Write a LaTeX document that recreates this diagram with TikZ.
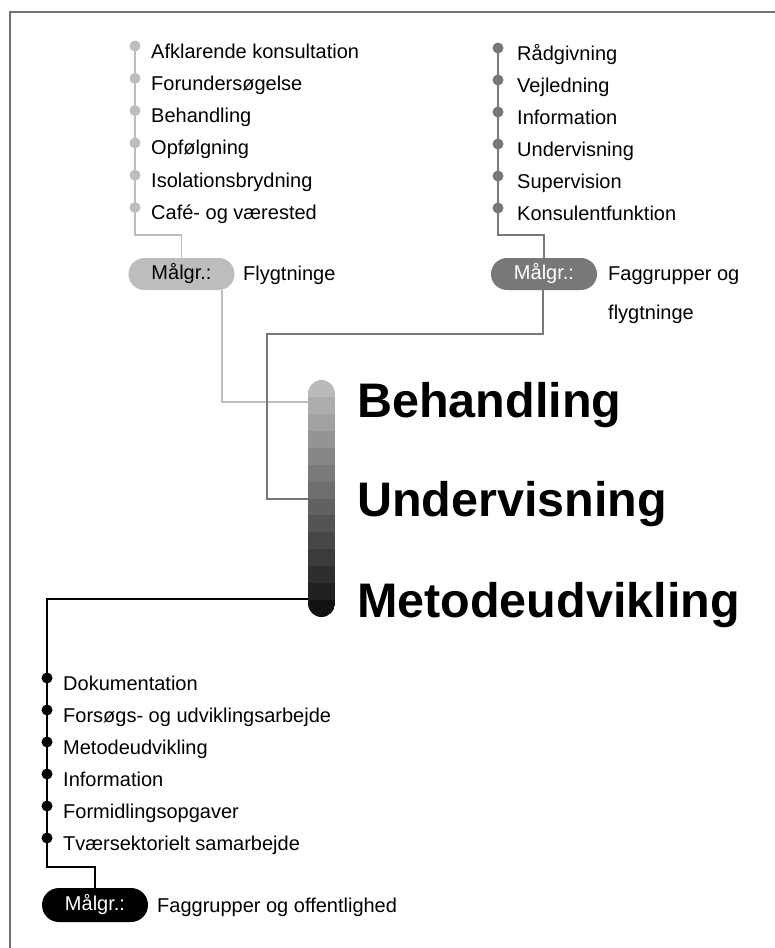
\documentclass[tikz,border=0pt]{standalone}
\usepackage{fontspec}
\setmainfont{Liberation Sans}
\usetikzlibrary{calc}
\usetikzlibrary{positioning}

\definecolor{lightgrp}{gray}{0.74}
\definecolor{midgrp}{gray}{0.47}
\definecolor{framegray}{gray}{0.45}

\tikzset{
  item/.style={anchor=base west, inner sep=0pt, font=\fontsize{20}{24}\selectfont},
  dot/.style={circle, fill, inner sep=0pt, minimum size=11pt},
  malgr/.style={rounded corners=16pt, minimum width=106pt, minimum height=32pt, inner sep=0pt, font=\fontsize{20}{24}\selectfont},
  title/.style={anchor=base west, inner sep=0pt, font=\fontsize{48.5}{50}\selectfont\bfseries},
  link/.style={line width=1.5pt},
}

\begin{document}
\begin{tikzpicture}[x=1pt, y=-1pt]
    \useasboundingbox (0,0) rectangle (775,948);
    \coordinate (f1) at (10,948);
    \coordinate (f2) at (10,12);
    \coordinate (f3) at (775,12);
    \draw[framegray, line width=1.5pt] (f1) -- (f2) -- (f3);

    \node (bar) [minimum width=27pt, minimum height=237pt, inner sep=0pt] at (321.5,498.5) {};
    \begin{scope}
        \clip[rounded corners=13.5pt] (308,380) rectangle (335,617);
        \foreach \k in {0,...,13} {
            \pgfmathtruncatemacro\shade{27+5.08*\k}
            \fill[black!\shade] (308,{380+16.93*\k}) rectangle (335,{380+16.93*(\k+1)+0.4});
        }
    \end{scope}
    \coordinate (in1) at (308,402);
    \coordinate (in2) at (308,499);
    \coordinate (in3) at (308,599);

    \node[title] (behandling) at (357,417) {Behandling};
    \node[title] (undervisning) at (357,516) {Undervisning};
    \node[title] (metode) at (357,617) {Metodeudvikling};

    \foreach \txt [count=\i] in {Afklarende konsultation, Forundersøgelse, Behandling, Opfølgning, Isolationsbrydning, Café- og værested} {
        \node[dot, lightgrp] (a\i) at (135,{46+32.3*(\i-1)}) {};
        \node[item] (ta\i) at (151,{58+32.3*(\i-1)}) {\txt};
    }
    \coordinate (a7) at (135,235);
    \node[malgr, fill=lightgrp] (p1) at (181.5,274) {Målgr.:};
    \node[item] (m1) at (243,280) {Flygtninge};
    \coordinate (p1out) at (222,290);
    \coordinate (k1) at (222,402);
    \draw[link, lightgrp] (a1.center) -- (a7) -| (p1.north);
    \draw[link, lightgrp] (p1out) -- (k1) -- (in1);

    \foreach \txt [count=\i] in {Rådgivning, Vejledning, Information, Undervisning, Supervision, Konsulentfunktion} {
        \node[dot, midgrp] (b\i) at (498,{48+32*(\i-1)}) {};
        \node[item] (tb\i) at (517,{60+32*(\i-1)}) {\txt};
    }
    \coordinate (b7) at (498,235);
    \node[malgr, fill=midgrp, text=white] (p2) at (544,274) {Målgr.:};
    \node[item, align=left, font=\fontsize{20}{39}\selectfont] (m2) at (608,319) {Faggrupper og\\flygtninge};
    \coordinate (p2out) at (543,290);
    \coordinate (k2) at (543,334);
    \coordinate (k3) at (267,334);
    \coordinate (k4) at (267,499);
    \draw[link, midgrp] (b1.center) -- (b7) -| (p2.north);
    \draw[link, midgrp] (p2out) -- (k2) -- (k3) -- (k4) -- (in2);

    \foreach \txt [count=\i] in {Dokumentation, Forsøgs- og udviklingsarbejde, Metodeudvikling, Information, Formidlingsopgaver, Tværsektorielt samarbejde} {
        \node[dot, black] (c\i) at (47,{678+32*(\i-1)}) {};
        \node[item] (tc\i) at (63,{690+32*(\i-1)}) {\txt};
    }
    \coordinate (c0) at (47,599);
    \coordinate (c7) at (47,867);
    \node[malgr, fill=black, text=white, minimum height=34pt, rounded corners=17pt] (p3) at (95,905) {Målgr.:};
    \node[item] (m3) at (157,912) {Faggrupper og offentlighed};
    \draw[link, black] (in3) -- (c0) -- (c7) -| (p3.north);
\end{tikzpicture}
\end{document}
